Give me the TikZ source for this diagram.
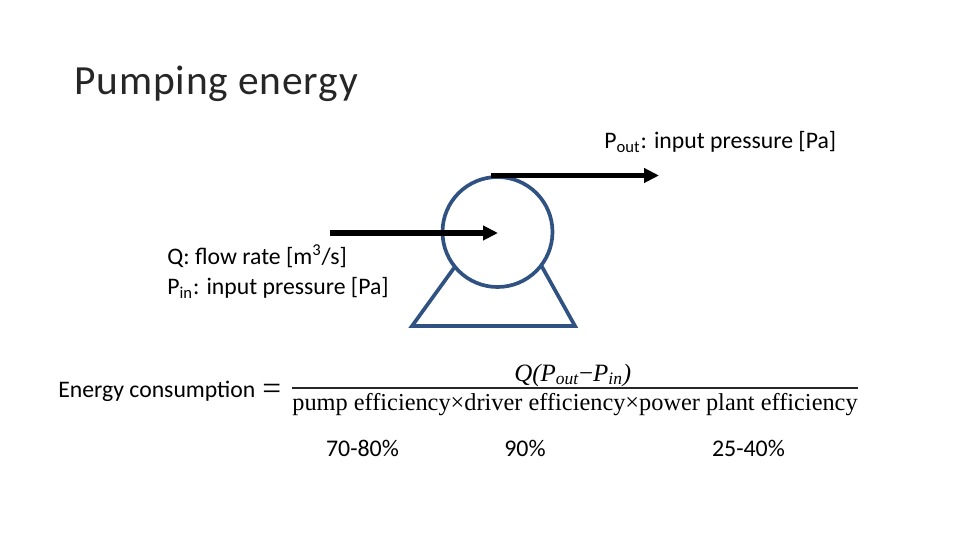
\documentclass[tikz,border=0pt]{standalone}
\usepackage{fontspec}
\setmainfont{Carlito}
\newfontfamily\eqfont{Liberation Serif}
\usepackage{xcolor}
\usetikzlibrary{arrows.meta, positioning, calc}
\definecolor{pumpblue}{HTML}{2F5283}
\tikzset{
	label/.style={inner sep=0pt, anchor=base west, font=\fontsize{13.5}{16}\selectfont},
	pct/.style={inner sep=0pt, anchor=base, font=\fontsize{13.6}{16}\selectfont},
	eqtext/.style={inner sep=0pt, anchor=base west, font=\fontsize{13.85}{16}\selectfont\eqfont},
	pumpline/.style={draw=pumpblue, line width=2.1pt},
	flow/.style={line width=3pt, -{Triangle[length=8.5pt,width=8pt]}}
}
\begin{document}
\begin{tikzpicture}[x=0.02cm, y=-0.02cm]
	\useasboundingbox (0,0) rectangle (960,540);
	
	% Title
	\node[label, font=\fontsize{23.6}{28}\selectfont\addfontfeature{LetterSpace=2}, text=black!85] (title) at (74,95) {Pumping energy};
	
	% Pump body
	\node[circle, pumpline, minimum size=110*0.02cm, inner sep=0pt] (pump) at (497.5,232) {};
	\coordinate (footleft) at (412,326);
	\coordinate (footright) at (575,326);
	\coordinate (legleft) at (454,268);
	\coordinate (legright) at (541,265);
	\draw[pumpline, line join=miter] (legleft) -- (footleft) -- (footright) -- (legright);
	
	% Flow arrows
	\coordinate (instart) at (330,233);
	\coordinate (inend) at (498,233);
	\coordinate (outstart) at (491,175.5);
	\coordinate (outend) at (659,175.5);
	\draw[flow] (instart) -- (inend);
	\draw[flow] (outstart) -- (outend);
	
	% Labels
	\node[label] (pout) at (604,149) {P\textsubscript{out}: input pressure [Pa]};
	\node[label] (q) at (167,265) {Q: flow rate [m\textsuperscript{3}/s]};
	\node[label] (pin) at (167,295) {P\textsubscript{in}: input pressure [Pa]};
	
	% Equation
	\node[label] (energy) at (58,398) {Energy consumption};
	\node[inner sep=0pt, anchor=base west, font=\fontsize{19}{20}\selectfont\eqfont] (equals) at (262,399) {=};
	\coordinate (barleft) at (292,388);
	\coordinate (barright) at (858,388);
	\draw[line width=1.2pt, black!85] (barleft) -- (barright);
	\node[eqtext, font=\fontsize{14.2}{16}\selectfont\eqfont\itshape] (numer) at (514,381) {Q(P\textsubscript{out}{\upshape−}P\textsubscript{in})};
	\node[eqtext] (denom) at (292,411) {pump efficiency×driver efficiency×power plant efficiency};
	
	% Efficiency ranges
	\node[pct] (pumpeff) at (362.5,456) {70-80\%};
	\node[pct] (drivereff) at (525,456) {90\%};
	\node[pct] (planteff) at (748.5,456) {25-40\%};
\end{tikzpicture}
\end{document}
